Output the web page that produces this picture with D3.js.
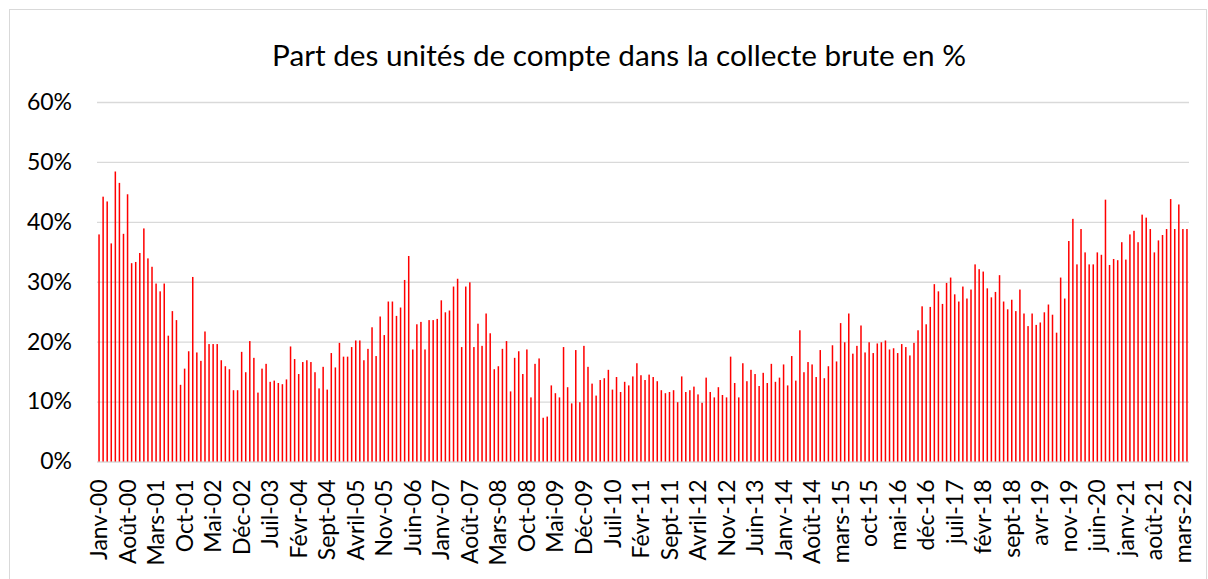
<!DOCTYPE html>
<html>
<head>
<meta charset="utf-8">
<script src="https://cdn.jsdelivr.net/npm/d3@7"></script>
<style>
  body { margin: 0; background: #fff; }
  svg text { font-family: Lato, 'Open Sans', sans-serif; fill: #000; }
</style>
</head>
<body>
<script>

// Part des UC, monthly, Janv-2000 .. Avril-2022 (in %)
var v2000 = [37.9, 44.2, 43.4, 36.4, 48.4, 46.5, 38.0, 44.6, 33.1, 33.3, 34.8, 38.9]
var v2001 = [33.9, 32.5, 29.7, 28.4, 29.7, 21.0, 25.1, 23.6, 12.8, 15.5, 18.4, 30.8]
var v2002 = [18.2, 16.8, 21.7, 19.6, 19.6, 19.6, 16.9, 15.9, 15.4, 11.9, 11.9, 18.3]
var v2003 = [14.9, 20.1, 17.3, 11.5, 15.5, 16.3, 13.3, 13.5, 13.1, 12.9, 13.7, 19.2]
var v2004 = [17.1, 14.6, 16.6, 16.9, 16.6, 14.9, 12.2, 15.8, 12.0, 18.1, 15.7, 19.8]
var v2005 = [17.5, 17.5, 19.1, 20.2, 20.2, 16.9, 18.8, 22.4, 17.6, 24.2, 21.1, 26.7]
var v2006 = [26.7, 24.3, 25.7, 30.3, 34.3, 18.7, 22.9, 23.3, 18.7, 23.6, 23.6, 23.8]
var v2007 = [26.9, 24.9, 25.2, 29.2, 30.5, 19.1, 29.2, 29.9, 19.1, 23.0, 19.3, 24.7]
var v2008 = [21.4, 15.4, 15.9, 18.8, 20.1, 11.7, 17.3, 18.4, 14.6, 18.7, 10.7, 16.3]
var v2009 = [17.2, 7.3, 7.5, 12.7, 11.4, 10.7, 19.1, 12.4, 9.7, 18.6, 9.9, 19.3]
var v2010 = [15.8, 13.0, 11.0, 13.6, 13.9, 15.3, 12.0, 14.1, 11.6, 13.3, 12.7, 14.2]
var v2011 = [16.4, 14.4, 13.6, 14.5, 14.1, 13.4, 11.9, 11.4, 11.6, 11.9, 9.9, 14.2]
var v2012 = [11.6, 11.9, 12.5, 11.2, 9.8, 14.0, 11.6, 10.7, 12.4, 11.1, 10.7, 17.5]
var v2013 = [13.1, 10.7, 16.4, 13.4, 15.3, 14.6, 12.6, 14.8, 13.1, 16.3, 13.3, 14.0]
var v2014 = [16.2, 12.7, 17.6, 13.5, 21.9, 14.9, 16.6, 16.2, 14.1, 18.6, 13.9, 15.9]
var v2015 = [19.4, 16.7, 23.1, 19.9, 24.7, 18.0, 19.3, 22.7, 18.2, 19.9, 18.1, 19.7]
var v2016 = [19.9, 20.2, 18.7, 18.9, 18.1, 19.6, 19.1, 17.7, 19.8, 21.9, 25.9, 22.9]
var v2017 = [25.8, 29.6, 28.4, 26.3, 29.8, 30.7, 27.9, 26.7, 29.2, 27.2, 28.7, 32.9]
var v2018 = [32.1, 31.7, 28.9, 27.4, 28.3, 31.1, 26.7, 25.4, 27.0, 25.1, 28.7, 24.7]
var v2019 = [22.6, 24.7, 22.8, 23.2, 24.9, 26.2, 24.5, 21.5, 30.7, 27.2, 36.8, 40.5]
var v2020 = [32.9, 38.8, 34.9, 32.9, 32.9, 34.9, 34.5, 43.7, 32.8, 33.8, 33.6, 36.6]
var v2021 = [33.7, 37.9, 38.5, 36.6, 41.2, 40.7, 38.8, 34.9, 36.9, 37.8, 38.8, 43.8]
var v2022 = [38.8, 42.9, 38.8, 38.8]

// one label every 7 months, starting Janv-00
var tickLabels = ['Janv-00', 'Août-00', 'Mars-01', 'Oct-01', 'Mai-02', 'Déc-02', 'Juil-03',
    'Févr-04', 'Sept-04', 'Avril-05', 'Nov-05', 'Juin-06', 'Janv-07', 'Août-07', 'Mars-08',
    'Oct-08', 'Mai-09', 'Déc-09', 'Juil-10', 'Févr-11', 'Sept-11', 'Avril-12', 'Nov-12',
    'Juin-13', 'Janv-14', 'Août-14', 'mars-15', 'oct-15', 'mai-16', 'déc-16', 'juil-17',
    'févr-18', 'sept-18', 'avr-19', 'nov-19', 'juin-20', 'janv-21', 'août-21', 'mars-22']
var yTicks = [0, 10, 20, 30, 40, 50, 60]

var title = 'Part des unités de compte dans la collecte brute en %'

var values = [].concat(v2000, v2001, v2002, v2003, v2004, v2005, v2006, v2007, v2008, v2009,
    v2010, v2011, v2012, v2013, v2014, v2015, v2016, v2017, v2018, v2019, v2020, v2021, v2022)

var width = 1208
var height = 579
var plotLeft = 97, plotRight = 1189, plotTop = 102, plotBottom = 461.5

var svg = d3.select('body').append('svg')
    .attr('width', width)
    .attr('height', height)

// chart frame
svg.append('rect')
    .attr('x', 9.5).attr('y', 9.5)
    .attr('width', 1197).attr('height', 600)
    .attr('fill', 'none')
    .attr('stroke', '#d9d9d9')

svg.append('text')
    .attr('x', 619).attr('y', 66)
    .attr('text-anchor', 'middle')
    .style('font-size', '29.7px')
    .text(title)

var x = d3.scaleBand()
    .domain(d3.range(values.length))
    .range([plotLeft, plotRight])
    .paddingInner(0.63)
    .paddingOuter(0.315)

var y = d3.scaleLinear().domain([0, 60]).range([plotBottom, plotTop])

var yAxis = d3.axisLeft(y)
    .tickValues(yTicks)
    .tickFormat(d => d + '%')
    .tickSize(-(plotRight - plotLeft))
    .tickPadding(25)

var gy = svg.append('g')
    .attr('transform', 'translate(' + plotLeft + ',0)')
    .call(yAxis)
gy.select('.domain').remove()
gy.selectAll('.tick line').attr('stroke', '#d9d9d9').attr('stroke-width', 1.3)
gy.selectAll('.tick text')
    .style('font-size', '23px')
    .attr('fill', '#000')

svg.append('g')
    .selectAll('rect')
    .data(values)
    .enter()
    .append('rect')
        .attr('x', (d, i) => x(i))
        .attr('y', d => y(d))
        .attr('width', x.bandwidth())
        .attr('height', d => y(0) - y(d))
        .attr('fill', '#ff0000')

var xAxis = d3.axisBottom(x)
    .tickValues(d3.range(0, values.length, 7))
    .tickFormat((d, i) => tickLabels[i])
    .tickSize(0)

var gx = svg.append('g')
    .attr('transform', 'translate(0,' + plotBottom + ')')
    .call(xAxis)
gx.select('.domain').remove()
gx.selectAll('.tick text')
    .style('font-size', '23px')
    .attr('fill', '#000')
    .attr('text-anchor', 'end')
    .attr('transform', 'rotate(-90)')
    .attr('x', -18)
    .attr('y', 0)
    .attr('dy', '0.35em')

</script>
</body>
</html>
